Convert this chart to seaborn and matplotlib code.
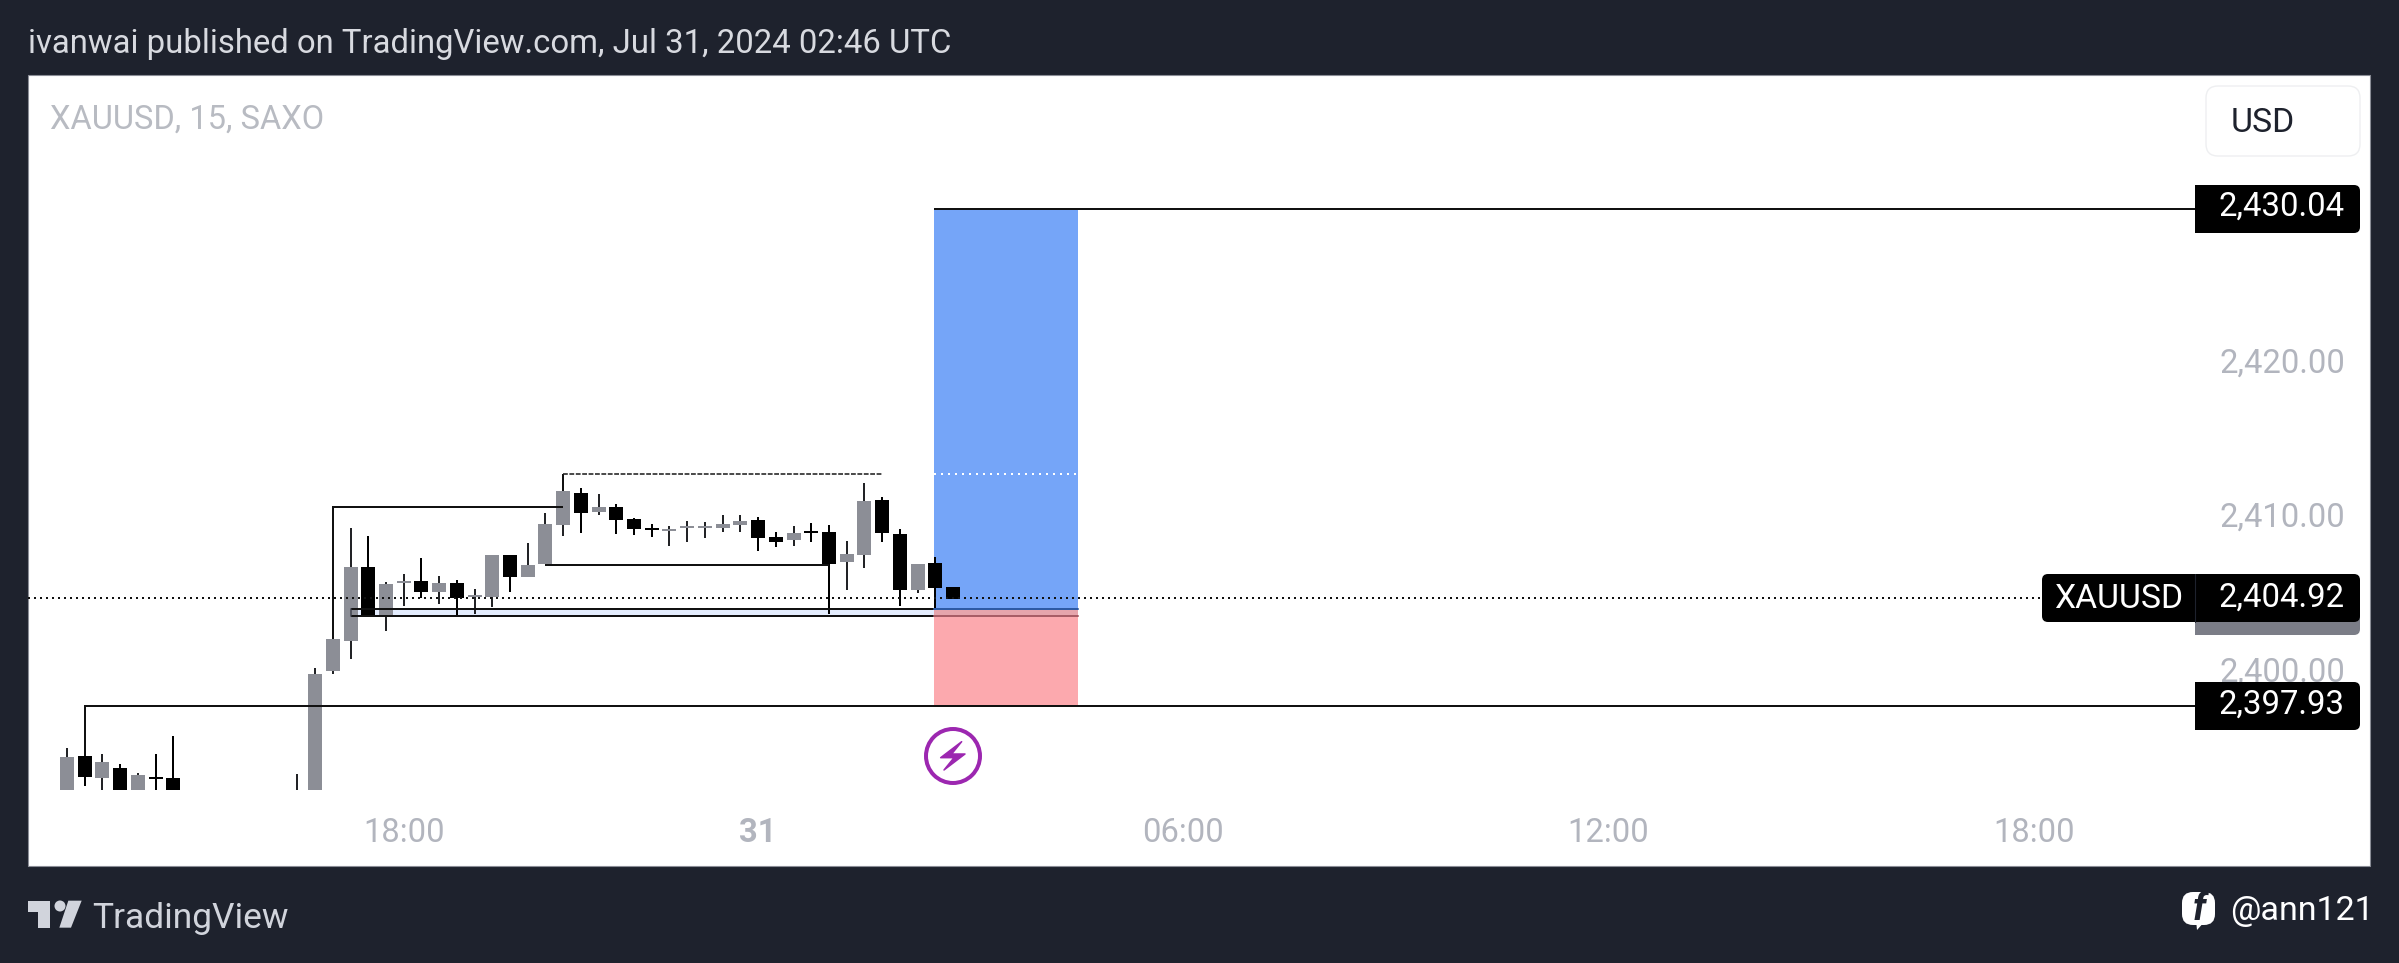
import numpy as np
import pandas as pd
import matplotlib
matplotlib.use('Agg')
import matplotlib.pyplot as plt
from matplotlib.patches import Rectangle, FancyBboxPatch, Circle, Polygon
from matplotlib.transforms import ScaledTranslation
import seaborn as sns

# candles, bars 7-12 sit below the visible pane
bar_index = [0, 1, 2, 3, 4, 5, 6, 13, 14, 15, 16, 17, 18, 19, 20, 21, 22, 23, 24, 25, 26, 27, 28, 29, 30,
             31, 32, 33, 34, 35, 36, 37, 38, 39, 40, 41, 42, 43, 44, 45, 46, 47, 48, 49, 50]
open_ = [2392.00, 2394.68, 2393.26, 2393.91, 2392.20, 2393.30, 2393.26, 2391.00, 2392.00, 2400.18, 2402.12,
         2406.90, 2403.73, 2405.86, 2405.99, 2405.28, 2405.86, 2404.96, 2404.96, 2407.67, 2406.25, 2407.09,
         2409.61, 2411.68, 2410.45, 2410.78, 2410.00, 2409.42, 2409.23, 2409.42, 2409.42, 2409.42, 2409.61,
         2409.94, 2408.84, 2408.64, 2409.23, 2409.16, 2407.22, 2407.67, 2411.23, 2409.03, 2405.41, 2407.16,
         2405.61]
high = [2395.20, 2394.68, 2394.81, 2394.17, 2393.58, 2394.81, 2395.97, 2393.52, 2400.37, 2403.15, 2409.42,
        2408.90, 2405.93, 2406.45, 2407.48, 2406.32, 2406.06, 2405.48, 2407.67, 2407.67, 2408.45, 2410.39,
        2412.78, 2412.01, 2411.62, 2410.97, 2410.07, 2409.68, 2409.55, 2409.87, 2409.81, 2410.26, 2410.26,
        2410.13, 2409.16, 2409.55, 2409.74, 2409.61, 2408.58, 2412.33, 2411.42, 2409.36, 2407.09, 2407.55,
        2405.61]
low = [2391.80, 2392.74, 2392.30, 2392.00, 2392.00, 2392.20, 2392.00, 2390.50, 2391.50, 2399.98, 2400.95,
       2403.73, 2402.76, 2404.38, 2404.90, 2404.51, 2403.80, 2403.86, 2404.31, 2405.28, 2406.25, 2407.09,
       2408.90, 2409.10, 2410.26, 2409.03, 2408.97, 2408.84, 2408.26, 2408.52, 2408.77, 2409.16, 2409.16,
       2407.93, 2408.19, 2408.26, 2408.52, 2403.86, 2405.41, 2406.83, 2408.52, 2404.38, 2405.22, 2404.18,
       2404.83]
close = [2394.62, 2393.32, 2394.29, 2392.20, 2393.45, 2393.20, 2392.20, 2392.00, 2399.98, 2402.24, 2406.90,
         2403.73, 2405.80, 2405.99, 2405.28, 2405.86, 2404.90, 2405.09, 2407.67, 2406.25, 2407.03, 2409.68,
         2411.81, 2410.39, 2410.78, 2409.94, 2409.36, 2409.29, 2409.36, 2409.55, 2409.55, 2409.68, 2409.87,
         2408.77, 2408.52, 2409.10, 2409.10, 2407.09, 2407.74, 2411.17, 2409.10, 2405.41, 2407.09, 2405.54,
         2404.83]

target_price = 2430.04
stop_price = 2397.93
last_price = 2404.92
entry_top = 2404.18
entry_bottom = 2403.73
price_ticks = [2400, 2410, 2420]
time_tick_bars = [19, 39, 63, 87, 111]
time_tick_labels = ['18:00', '31', '06:00', '12:00', '18:00']

# drawn tools on the chart (bar, price)
high_line_x = [15, 15, 28]
high_line_y = [2402.24, 2410.75, 2410.75]
top_line_x = [28, 28, 46]
top_line_y = [2411.81, 2412.91, 2412.91]
mid_line_x = [27, 43]
mid_line_y = [2407.03, 2407.03]
stop_line_x = [1, 1, 120.1]
stop_line_y = [2394.68, stop_price, stop_price]
zone_left = 48.93
zone_right = 57.05
band_left = 16
label_left = 120.1

BG = '#1e222d'
GRAY = '#8c8e96'
TICK = '#b2b5be'
PX = 0.72   # px to pt at dpi 100

sns.set_style('white')
plt.rcParams['font.family'] = ['Roboto', 'DejaVu Sans']

fig = plt.figure(figsize=(23.99, 9.63), dpi=100, facecolor=BG)

bg = fig.add_axes([0, 0, 1, 1], zorder=0)
bg.set_xlim(0, 2399)
bg.set_ylim(963, 0)
bg.axis('off')
bg.add_patch(Rectangle((28, 75), 2342, 791, facecolor='white', edgecolor='#8a8d96', lw=0.8))

ax = fig.add_axes([28 / 2399, (963 - 790) / 963, 2342 / 2399, 714 / 963], zorder=1)
ax.patch.set_alpha(0)
for s in ax.spines.values():
    s.set_visible(False)

df = pd.DataFrame({'bar': bar_index, 'open': open_, 'high': high, 'low': low, 'close': close})
df['up'] = df['close'] > df['open']
df['top'] = df[['open', 'close']].max(axis=1)
df['bottom'] = df[['open', 'close']].min(axis=1)

# risk/reward zones and the pale entry band go under the candles
ax.fill_between([band_left, zone_left], entry_bottom, entry_top, color='#e3ecfd', lw=0, zorder=1)
ax.fill_between([zone_left, zone_right], entry_top, target_price, color='#75a5f8', lw=0, zorder=1)
ax.fill_between([zone_left, zone_right], stop_price, entry_bottom, color='#fca9ae', lw=0, zorder=1)
ax.fill_between([zone_left, zone_right], entry_bottom, entry_top, color='#e6a5ac', lw=0, zorder=1)

wicks = df.melt(id_vars=['bar', 'up'], value_vars=['low', 'high'], value_name='price')
bodies = df.melt(id_vars=['bar', 'up'], value_vars=['bottom', 'top'], value_name='price')
for is_up, wick_col, body_col in [(True, '#222326', GRAY), (False, '#000000', '#000000')]:
    sns.lineplot(data=wicks[wicks['up'] == is_up], x='bar', y='price', units='bar', estimator=None, sort=False,
                 color=wick_col, lw=2 * PX, solid_capstyle='butt', ax=ax, zorder=3)
    sns.lineplot(data=bodies[bodies['up'] == is_up], x='bar', y='price', units='bar', estimator=None, sort=False,
                 color=body_col, lw=14 * PX, solid_capstyle='butt', ax=ax, zorder=4)

line_kw = dict(color='#111111', lw=2 * PX, solid_capstyle='butt', solid_joinstyle='miter')
ax.plot(high_line_x, high_line_y, zorder=5, **line_kw)
ax.plot(mid_line_x, mid_line_y, zorder=5, **line_kw)
ax.plot(stop_line_x, stop_line_y, zorder=5, **line_kw)
ax.plot(top_line_x[:2], top_line_y[:2], zorder=5, **line_kw)
ax.plot(top_line_x[1:], top_line_y[1:], color='#222222', lw=1.6 * PX, ls=(0, (3, 1)), zorder=5)
ax.plot([zone_left, label_left], [target_price, target_price], zorder=5, **line_kw)
ax.plot([band_left, zone_left], [entry_top, entry_top], zorder=5, **line_kw)
ax.plot([band_left, zone_left], [entry_bottom, entry_bottom], zorder=5, **line_kw)
ax.plot([band_left, band_left], [entry_bottom, entry_top], color='#3a3d48', lw=2 * PX, alpha=0.7, zorder=5)
ax.plot([zone_left, zone_right], [entry_top, entry_top], color='#2d5aa5', lw=2 * PX, zorder=5)
ax.plot([zone_left, zone_right], [entry_bottom, entry_bottom], color='#a85d66', lw=2 * PX, zorder=5)
ax.plot([zone_left, zone_right], [2412.91, 2412.91], color='white', lw=2 * PX, ls=(0, (1, 2.5)), zorder=2)
ax.plot([-2.2, 111.5], [last_price, last_price], color='#111111', lw=2 * PX, ls=(0, (1, 2)), zorder=5)

ax.set_xlim((28 - 67) / 17.72, (2370 - 67) / 17.72)
ax.set_ylim(target_price - (790 - 209) / 15.47, target_price + (209 - 76) / 15.47)
ax.set_xlabel('')
ax.set_ylabel('')
ax.set_xticks(time_tick_bars)
ax.set_xticklabels(time_tick_labels)
ax.get_xticklabels()[1].set_fontweight('bold')
ax.tick_params(axis='x', length=0, pad=27 * PX, labelsize=23.6, labelcolor=TICK)
ax.yaxis.tick_right()
ax.set_yticks(price_ticks)
ax.set_yticklabels([f'{p:,.2f}' for p in price_ticks], ha='right')
ax.tick_params(axis='y', length=0, pad=-25 * PX, labelsize=23.6, labelcolor=TICK)
# tick labels sit a little above their gridline level in the original
nudge = ScaledTranslation(0, 4.5 / 100, fig.dpi_scale_trans)
for lab in ax.get_yticklabels():
    lab.set_transform(lab.get_transform() + nudge)

over = fig.add_axes([0, 0, 1, 1], zorder=2)
over.set_xlim(0, 2399)
over.set_ylim(963, 0)
over.axis('off')
over.patch.set_alpha(0)


def rbox(x0, y0, x1, y1, color, r=6, **kw):
    over.add_patch(FancyBboxPatch((x0 + r, y0 + r), x1 - x0 - 2 * r, y1 - y0 - 2 * r,
                                  boxstyle=f'round,pad={r},rounding_size={r}', facecolor=color,
                                  edgecolor=kw.get('edgecolor', 'none'), lw=kw.get('lw', 0)))


# price labels
for p, (y0, y1), ty in [(target_price, (185, 233), 207), (stop_price, (682, 730), 705)]:
    rbox(2195, y0, 2360, y1, '#000000')
    over.add_patch(Rectangle((2195, y0), 12, y1 - y0, color='#000000', lw=0))
    over.text(2345, ty, f'{p:,.2f}', color='white', fontsize=23.7, ha='right', va='center')

rbox(2195, 596, 2360, 635, '#7b7d87')
over.add_patch(Rectangle((2195, 596), 12, 39, color='#7b7d87', lw=0))
rbox(2042, 574, 2360, 622, '#000000')
over.plot([2194.5, 2194.5], [574, 622], color='#1e222d', lw=0.8)
over.text(2054, 599, 'XAUUSD', color='white', fontsize=24.3, ha='left', va='center')
over.text(2345, 597.5, f'{last_price:,.2f}', color='white', fontsize=23.7, ha='right', va='center')

# USD button
rbox(2206, 86, 2360, 156, 'white', r=12, edgecolor='#eeeff1', lw=1)
over.text(2231, 122.5, 'USD', color='#1e222d', fontsize=24.4, ha='left', va='center')

over.text(50, 119.5, 'XAUUSD, 15, SAXO', color='#b8bbc2', fontsize=23.5, ha='left', va='center')
over.text(28, 44.5, 'ivanwai published on TradingView.com, Jul 31, 2024 02:46 UTC', color='#d8dae0',
          fontsize=23.65, ha='left', va='center')

# lightning marker
over.add_patch(Circle((953, 756), 27, facecolor='white', edgecolor='#9c27b0', lw=4 * PX))
bolt = np.array([(245, 485), (182, 533), (222, 533), (192, 570), (255, 522), (215, 522)], dtype=float)
over.add_patch(Polygon(np.c_[880 + bolt[:, 0] / 3, 580 + bolt[:, 1] / 3], closed=True, facecolor='#9c27b0',
                       edgecolor='#9c27b0', lw=1.5 * PX, joinstyle='round'))

# TradingView logo
logo_t = np.array([(85, 122), (150, 122), (150, 203), (115, 203), (115, 155), (85, 155)], dtype=float) / 3
logo_s = np.array([(205, 122), (245, 122), (213, 203), (178, 203)], dtype=float) / 3
over.add_patch(Polygon(logo_t + [0, 860], closed=True, color='#d1d4dc', lw=0))
over.add_patch(Polygon(logo_s + [0, 860], closed=True, color='#d1d4dc', lw=0))
over.add_patch(Circle((180 / 3, 860 + 138 / 3), 5.5, color='#d1d4dc', lw=0))
over.text(92, 918.5, 'TradingView', color='#d1d4dc', fontsize=25.5, ha='left', va='center')

# facebook handle
rbox(2182, 892, 2215, 925, 'white', r=11)
over.add_patch(Polygon([(2196, 920), (2206, 920), (2197, 930)], closed=True, color='white', lw=0))
over.text(2199, 909, 'f', color=BG, fontsize=27, fontweight='bold', style='italic', ha='center', va='center')
over.text(2230, 911, '@ann121', color='white', fontsize=24.5, ha='left', va='center')

fig.savefig('out.png', dpi=100, facecolor=BG)
